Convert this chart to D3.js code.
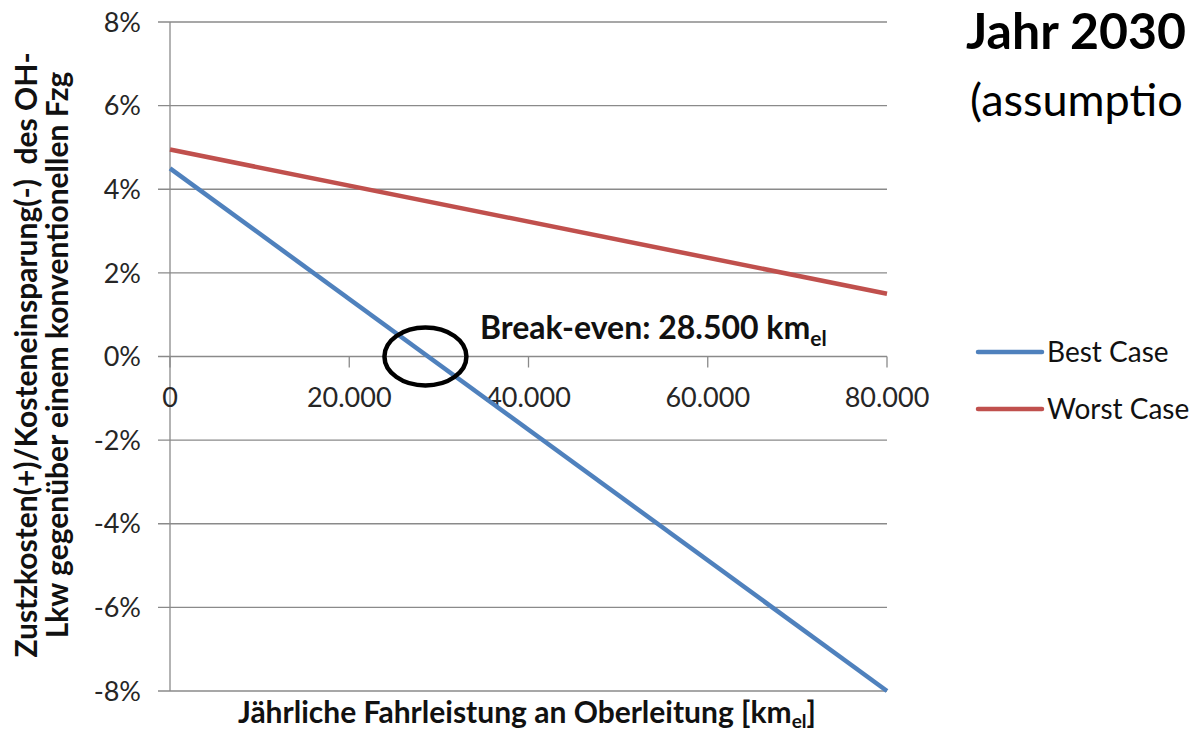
<!DOCTYPE html>
<html>
<head>
<meta charset="utf-8">
<script src="https://cdn.jsdelivr.net/npm/d3@7"></script>
<style>
  html, body { margin: 0; padding: 0; background: #fff; }
  svg { display: block; }
</style>
</head>
<body>
<svg id="chart" width="1195" height="734"></svg>
<script>
// ---- data ----
const xValues = [0, 80000];                 // jährliche Fahrleistung [km_el]
const bestCase = [4.5, -8.0];               // %
const worstCase = [4.95, 1.5];              // %
const seriesNames = ["Best Case", "Worst Case"];
const seriesColors = ["#4F81BD", "#C0504D"];
const xTicks = [0, 20000, 40000, 60000, 80000];
const xTickLabels = ["0", "20.000", "40.000", "60.000", "80.000"];
const yTicks = [8, 6, 4, 2, 0, -2, -4, -6, -8];
const yTickLabels = ["8%", "6%", "4%", "2%", "0%", "-2%", "-4%", "-6%", "-8%"];
const breakEvenKm = 28500;

const FONT = "Lato, 'Open Sans', sans-serif";
const svg = d3.select("#chart");

const x = d3.scaleLinear().domain([0, 80000]).range([170, 887]);
const y = d3.scaleLinear().domain([-8, 8]).range([691, 22]);

const gridColor = "#8a8a8a";

// gridlines (with outside tick stubs on left)
svg.append("g").selectAll("line").data(yTicks).join("line")
  .attr("x1", x(0) - 12).attr("x2", x(80000))
  .attr("y1", d => y(d)).attr("y2", d => y(d))
  .attr("stroke", gridColor).attr("stroke-width", 1.3);

// y axis line
svg.append("line")
  .attr("x1", x(0)).attr("x2", x(0)).attr("y1", y(8)).attr("y2", y(-8))
  .attr("stroke", gridColor).attr("stroke-width", 1.3);

// x axis ticks at 0%
svg.append("g").selectAll("line").data(xTicks).join("line")
  .attr("x1", d => x(d)).attr("x2", d => x(d))
  .attr("y1", y(0)).attr("y2", y(0) + 11)
  .attr("stroke", gridColor).attr("stroke-width", 1.3);

// y tick labels
svg.append("g").selectAll("text").data(yTicks).join("text")
  .attr("x", 141).attr("y", d => y(d)).attr("dy", "0.36em")
  .attr("text-anchor", "end")
  .attr("font-family", FONT).attr("font-size", 27).attr("fill", "#262626")
  .text((d, i) => yTickLabels[i]);

// x tick labels
svg.append("g").selectAll("text").data(xTicks).join("text")
  .attr("x", d => x(d)).attr("y", y(0) + 50)
  .attr("text-anchor", "middle")
  .attr("font-family", FONT).attr("font-size", 27).attr("fill", "#262626")
  .text((d, i) => xTickLabels[i]);

// lines
const lineGen = d3.line().x(d => x(d[0])).y(d => y(d[1]));
const series = [bestCase, worstCase];
series.forEach((vals, i) => {
  svg.append("path")
    .datum(xValues.map((xv, j) => [xv, vals[j]]))
    .attr("d", lineGen)
    .attr("fill", "none")
    .attr("stroke", seriesColors[i])
    .attr("stroke-width", 4.5);
});

// break-even ellipse
svg.append("ellipse")
  .attr("cx", x(breakEvenKm)).attr("cy", y(0))
  .attr("rx", 41).attr("ry", 29)
  .attr("fill", "none").attr("stroke", "#000").attr("stroke-width", 4.5);

// break-even label
const be = svg.append("text")
  .attr("x", 480).attr("y", 339)
  .attr("font-family", FONT).attr("font-size", 32).attr("font-weight", "bold").attr("fill", "#111");
be.append("tspan").text("Break-even: 28.500 km");
be.append("tspan").attr("font-size", 21).attr("dy", 7).text("el");

// x axis title
const xt = svg.append("text")
  .attr("x", 527).attr("y", 723).attr("text-anchor", "middle")
  .attr("font-family", FONT).attr("font-size", 30).attr("font-weight", "bold").attr("fill", "#111");
xt.append("tspan").text("Jährliche Fahrleistung an Oberleitung [km");
xt.append("tspan").attr("font-size", 19).attr("dy", 5).text("el");
xt.append("tspan").attr("dy", -5).text("]");

// y axis title (two lines)
const yTitleLines = ["Zustzkosten(+)/Kosteneinsparung(-)  des OH-", "Lkw gegenüber einem konventionellen Fzg"];
svg.append("g").selectAll("text").data(yTitleLines).join("text")
  .attr("transform", (d, i) => `translate(${37 + i * 31},355) rotate(-90)`)
  .attr("text-anchor", "middle")
  .attr("font-family", FONT).attr("font-size", 30).attr("font-weight", "bold").attr("fill", "#111")
  .style("white-space", "pre")
  .text(d => d);

// legend
const legendY = [352, 409];
seriesNames.forEach((name, i) => {
  svg.append("line")
    .attr("x1", 978).attr("x2", 1042).attr("y1", legendY[i]).attr("y2", legendY[i])
    .attr("stroke", seriesColors[i]).attr("stroke-width", 4.5).attr("stroke-linecap", "round");
  svg.append("text")
    .attr("x", 1047).attr("y", legendY[i]).attr("dy", "0.35em")
    .attr("font-family", FONT).attr("font-size", 28).attr("fill", "#111")
    .text(name);
});

// title block (cut at the right edge in the original)
svg.append("text")
  .attr("x", 966).attr("y", 49)
  .attr("font-family", FONT).attr("font-size", 50).attr("font-weight", "bold").attr("fill", "#000")
  .text("Jahr 2030");
svg.append("text")
  .attr("x", 970).attr("y", 116)
  .attr("font-family", FONT).attr("font-size", 45).attr("fill", "#000")
  .text("(assumptio");
</script>
</body>
</html>
